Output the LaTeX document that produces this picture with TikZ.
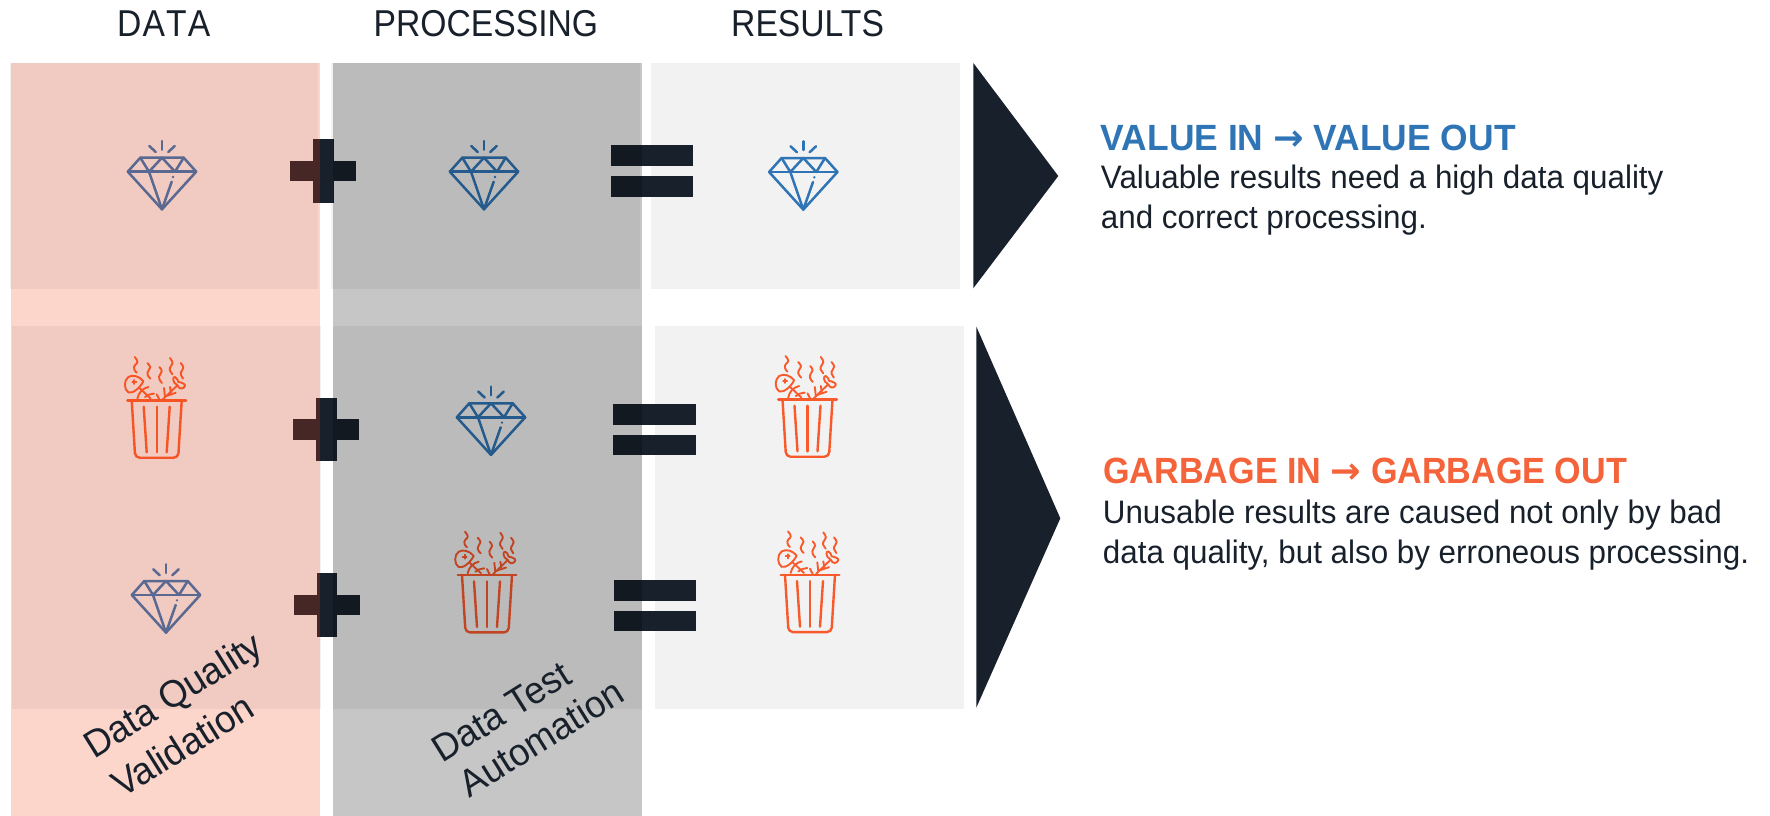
\documentclass[tikz,border=0pt]{standalone}
\usepackage{fontspec}
\setmainfont[FakeStretch=0.9]{Liberation Sans}
\newfontfamily\bodyfont[FakeStretch=0.965]{Liberation Sans}
\newfontfamily\titlefont[FakeStretch=0.97]{Liberation Sans}
\newfontfamily\titlefontb[FakeStretch=0.935]{Liberation Sans}
\newfontfamily\arrowfont{DejaVu Sans}
\definecolor{ink}{HTML}{18212B}
\definecolor{rowgray}{HTML}{F2F2F2}
\definecolor{bluec}{HTML}{2F75B5}
\definecolor{orangec}{HTML}{F95A2C}
\definecolor{headorange}{HTML}{F4633A}
\definecolor{colred}{HTML}{F14013}
\tikzset{
  rowbox/.style={fill=rowgray,draw=none},
  bar/.style={fill=ink,draw=none},
  icon/.style={line width=2.5pt,line join=round,line cap=round},
  headtxt/.style={inner sep=0pt,anchor=base west,text=ink,font=\fontsize{37.4}{41}\selectfont},
  titletxt/.style={inner sep=0pt,anchor=base west,font=\bfseries\fontsize{36.5}{41}\selectfont},
  bodytxt/.style={inner sep=0pt,anchor=base west,text=ink,font=\bodyfont\fontsize{32.5}{38}\selectfont},
  slanttxt/.style={inner sep=0pt,text=ink,rotate=32,font=\bodyfont\fontsize{38}{44}\selectfont}
}
\newcommand{\gem}[3]{\begin{scope}[shift={(#1,#2)},icon,draw=#3]
  \draw (-34.2,0) -- (-21.7,-14) -- (21.7,-14) -- (34.2,0) -- (0,37.6) -- cycle;
  \draw (-34.2,0) -- (34.2,0);
  \draw (-21.7,-14) -- (-13,0) -- (0,-14) -- (13,0) -- (21.7,-14);
  \draw (-13,0) -- (0,37.6) -- (9.7,10);
  \fill[#3] (11,5.3) circle (1.3);
  \draw (0,-30.7) -- (0,-22);
  \draw (-12.7,-25.7) -- (-6.3,-19.7);
  \draw (12.7,-25.7) -- (6.3,-19.7);
\end{scope}}
\newcommand{\bin}[3]{\begin{scope}[shift={(#1,#2)},icon,line width=2.4pt,draw=#3]
  \draw (-29.3,0) -- (29.3,0);
  \draw[rounded corners=4.5pt] (-25,0) -- (-21.5,57.4) -- (21.5,57.4) -- (25,0);
  \draw (-13,6.4) -- (-10,52);
  \draw (0,6.4) -- (0,52);
  \draw (13,6.4) -- (10,52);
  \begin{scope}[line width=1.9pt]
  \draw (-22,-43.3) .. controls (-18,-39) and (-19,-37) .. (-21.5,-35.5) .. controls (-24,-33) and (-22,-29) .. (-20,-27.7);
  \draw (-9.3,-37.3) .. controls (-5.5,-33.5) and (-6,-31.5) .. (-8,-30) .. controls (-10.5,-27) and (-9,-24) .. (-6.3,-21.7);
  \draw (2.7,-33.3) .. controls (6,-30) and (5.5,-27.5) .. (3.5,-26) .. controls (1,-23) and (3,-19.5) .. (5.3,-17.3);
  \draw (13.3,-42.3) .. controls (17,-38) and (16,-35.5) .. (14.5,-34.5) .. controls (11.5,-31.5) and (13.5,-28) .. (15.7,-26);
  \draw (24,-37.3) .. controls (27.5,-33.5) and (27,-31.5) .. (25.5,-30) .. controls (22.5,-27) and (24.5,-24) .. (26.3,-21.7);
  \draw (-13.3,-19) .. controls (-17,-24) and (-24,-26) .. (-28.3,-23.3) .. controls (-33,-20) and (-33,-11) .. (-28.3,-7.9) .. controls (-24,-6.5) and (-17,-12) .. cycle;
  \draw (-24.3,-18.3) -- (-20.3,-18.3) (-22.3,-20.3) -- (-22.3,-16.3);
  \draw (-17.3,-12.3) -- (-6,-1.7);
  \draw (-19.3,-1.7) .. controls (-18,-8) and (-14,-12) .. (-8.3,-13.3);
  \draw (-11.7,-3.3) .. controls (-9,-5.5) and (-6,-6.5) .. (-2.7,-6.7);
  \draw (0,-6) -- (2.7,-.7);
  \draw (6,-.7) -- (20.7,-15);
  \draw (7.3,-12.3) -- (8.3,-3.3);
  \draw (13.3,-13.3) -- (14.3,-7.7);
  \draw (10,-4.5) -- (19,-7.5);
  \draw (20.7,-15) .. controls (15,-18) and (16,-24) .. (18.3,-23.3) .. controls (20.5,-22.5) and (21,-20) .. (21.7,-18.3) .. controls (25,-18) and (29,-16) .. (28.3,-14.5) .. controls (27,-11) and (22.5,-10.5) .. cycle;
  \end{scope}
\end{scope}}
\newcommand{\plusbar}[2]{\begin{scope}[shift={(#1,#2)}]
  \fill[ink] (-33,-10.2) rectangle (33,10.2);
  \fill[ink] (-10.2,-31.7) rectangle (10.2,31.7);
\end{scope}}
\begin{document}
\begin{tikzpicture}[x=1pt,y=-1pt]
\useasboundingbox (0,0) rectangle (1770,816);
% row panels
\fill[rowbox] (10,63) rectangle (318,288.7);
\fill[rowbox] (331,63) rectangle (640,288.7);
\fill[rowbox] (651,63) rectangle (960,288.7);
\fill[rowbox] (12,326) rectangle (321,708.7);
\fill[rowbox] (333,326) rectangle (642,708.7);
\fill[rowbox] (655,326) rectangle (964,708.7);
% triangles
\fill[ink] (973.3,63) -- (1058.3,176) -- (973.3,288.3) -- cycle;
\fill[ink] (976.3,326.5) -- (1060.3,518.3) -- (976.3,707.7) -- cycle;
% operators
\plusbar{323.3}{171}
\plusbar{326.3}{429.3}
\plusbar{326.7}{605}
\foreach \ex/\ea/\eb in {610.7/145.3/176.3, 613.3/404/434.7, 614/580/610.7}{
  \fill[bar] (\ex,\ea) rectangle ++(82.3,20.5);
  \fill[bar] (\ex,\eb) rectangle ++(82.3,20.5);
}
% icons
\gem{162}{171.7}{bluec}
\gem{484}{171.7}{bluec}
\gem{803.3}{172}{bluec}
\gem{491}{417.3}{bluec}
\gem{166}{595}{bluec}
\bin{156.7}{400.3}{orangec}
\bin{807.5}{399.3}{orangec}
\bin{487}{575}{orangec}
\bin{810}{574.7}{orangec}
% translucent columns
\fill[colred,fill opacity=.22] (11,63) rectangle (320,816);
\fill[black,fill opacity=.225] (333,63) rectangle (642,816);
% texts
\node[headtxt] (hdata) at (117,36.7) {\addfontfeatures{Kerning=Off,LetterSpace=3}DATA};
\node[headtxt] (hproc) at (373.5,36.7) {PROCESSING};
\node[headtxt] (hres) at (731,36.7) {RESULTS};
\node[titletxt,text=bluec] (tval) at (1100.7,150) {\titlefont\bfseries VALUE IN {\arrowfont →} VALUE OUT};
\node[bodytxt] (bval1) at (1100.7,188.3) {Valuable results need a high data quality};
\node[bodytxt] (bval2) at (1100.7,228.3) {and correct processing.};
\node[titletxt,text=headorange] (tgar) at (1103.2,483.3) {\titlefontb\bfseries GARBAGE IN {\arrowfont →} GARBAGE OUT};
\node[bodytxt] (bgar1) at (1102.7,523.3) {Unusable results are caused not only by bad};
\node[bodytxt] (bgar2) at (1102.7,563) {data quality, but also by erroneous processing.};
\node[slanttxt] (sdq1) at (174.5,697.6) {Data Quality};
\node[slanttxt] (sdq2) at (182.3,745.5) {Validation};
\node[slanttxt] (sdt1) at (501.3,712) {Data Test};
\node[slanttxt] (sdt2) at (541,737.5) {Automation};
\end{tikzpicture}
\end{document}
